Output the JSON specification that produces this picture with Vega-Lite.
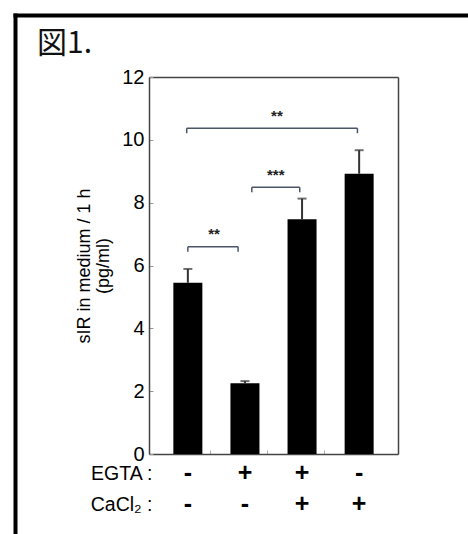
{
  "$schema": "https://vega.github.io/schema/vega-lite/v6.json",
  "width": 453,
  "height": 519,
  "autosize": {"type": "none"},
  "padding": {"left": 15, "top": 15, "right": 0, "bottom": 0},
  "background": "white",
  "title": {"text": "図1.", "orient": "top", "anchor": "start", "frame": "group", "font": "Noto Sans CJK JP", "fontSize": 30, "fontWeight": "normal", "color": "#111", "baseline": "alphabetic", "offset": -68, "dx": 22},
  "config": {"view": {"stroke": null}, "font": "Liberation Sans", "axis": {"grid": false, "labelFont": "Liberation Sans", "titleFont": "Liberation Sans"}},
  "datasets": {
    "main": [
      {"g": "1", "mean": 5.45, "upper": 5.89},
      {"g": "2", "mean": 2.25, "upper": 2.32},
      {"g": "3", "mean": 7.47, "upper": 8.13},
      {"g": "4", "mean": 8.92, "upper": 9.67}
    ],
    "brackets": [
      {"a": 0.98, "b": 3.97, "y": 10.37, "m": 2.56, "star": "**"},
      {"a": 2.12, "b": 2.96, "y": 8.49, "m": 2.54, "star": "***"},
      {"a": 1.0, "b": 1.88, "y": 6.6, "m": 1.46, "star": "**"}
    ],
    "table": [
      {"g": "1", "row": "EGTA :", "sign": "-"},
      {"g": "2", "row": "EGTA :", "sign": "+"},
      {"g": "3", "row": "EGTA :", "sign": "+"},
      {"g": "4", "row": "EGTA :", "sign": "-"},
      {"g": "1", "row": "CaCl₂ :", "sign": "-"},
      {"g": "2", "row": "CaCl₂ :", "sign": "-"},
      {"g": "3", "row": "CaCl₂ :", "sign": "+"},
      {"g": "4", "row": "CaCl₂ :", "sign": "+"}
    ],
    "frame": [{"f": 0}]
  },
  "resolve": {"scale": {"x": "independent", "y": "independent"}},
  "layer": [
    {
      "data": {"name": "frame"},
      "mark": {"type": "point", "opacity": 0},
      "encoding": {
        "x": {"field": "f", "type": "quantitative", "scale": {"domain": [0, 1], "nice": false}, "axis": {"orient": "top", "offset": 0, "labels": false, "ticks": false, "title": null, "domainColor": "#000", "domainWidth": 4, "domainCap": "square"}},
        "y": {"field": "f", "type": "quantitative", "scale": {"domain": [0, 1], "nice": false}, "axis": {"orient": "left", "offset": 0, "labels": false, "ticks": false, "title": null, "domainColor": "#000", "domainWidth": 4, "domainCap": "square"}}
      }
    },
    {
      "data": {"name": "main"},
      "mark": {"type": "bar", "color": "#000"},
      "encoding": {
        "x": {"field": "g", "type": "nominal", "scale": {"type": "band", "domain": ["1", "2", "3", "4"], "range": [134, 383], "paddingInner": 0.492, "paddingOuter": 0.4265}, "axis": {"orient": "bottom", "offset": -80, "labels": false, "title": null, "ticks": true, "tickSize": -4, "tickColor": "#aaa", "tickWidth": 1, "bandPosition": 1.28, "values": ["1", "2", "3"], "domainColor": "#444", "domainWidth": 1.5}},
        "y": {"field": "mean", "type": "quantitative", "scale": {"domain": [0, 12], "range": [439, 62], "nice": false, "zero": true}, "axis": {"orient": "left", "offset": -134, "values": [0, 2, 4, 6, 8, 10, 12], "tickSize": -4, "tickColor": "#999", "tickWidth": 1, "labelFontSize": 20, "labelColor": "#000", "labelPadding": 9, "domainColor": "#444", "domainWidth": 1.5, "title": ["sIR in medium / 1 h", "(pg/ml)"], "titleFontSize": 18, "titleFontWeight": "normal", "titleColor": "#000", "titlePadding": 9, "titleLineHeight": 19}}
      }
    },
    {
      "data": {"name": "main"},
      "mark": {"type": "rule", "color": "#333", "strokeWidth": 2},
      "encoding": {
        "x": {"field": "g", "type": "nominal", "scale": {"type": "band", "domain": ["1", "2", "3", "4"], "range": [134, 383], "paddingInner": 0.492, "paddingOuter": 0.4265}, "axis": {"orient": "top", "offset": -62, "labels": false, "ticks": false, "title": null, "domainColor": "#444", "domainWidth": 1.5}},
        "y": {"field": "mean", "type": "quantitative", "scale": {"domain": [0, 12], "range": [439, 62], "nice": false, "zero": true}, "axis": {"orient": "right", "offset": -70, "labels": false, "ticks": false, "title": null, "domainColor": "#444", "domainWidth": 1.5}},
        "y2": {"field": "upper"}
      }
    },
    {
      "data": {"name": "main"},
      "mark": {"type": "tick", "color": "#333", "size": 9, "thickness": 2},
      "encoding": {
        "x": {"field": "g", "type": "nominal", "scale": {"type": "band", "domain": ["1", "2", "3", "4"], "range": [134, 383], "paddingInner": 0.492, "paddingOuter": 0.4265}, "axis": null},
        "y": {"field": "upper", "type": "quantitative", "scale": {"domain": [0, 12], "range": [439, 62], "nice": false, "zero": true}, "axis": null}
      }
    },
    {
      "data": {"name": "brackets"},
      "mark": {"type": "rule", "color": "#4a5568", "strokeWidth": 1.5},
      "encoding": {
        "x": {"field": "a", "type": "quantitative", "scale": {"domain": [0.3196, 4.6806], "range": [134, 383], "nice": false, "zero": false}, "axis": null},
        "x2": {"field": "b"},
        "y": {"field": "y", "type": "quantitative", "scale": {"domain": [0, 12], "range": [439, 62], "nice": false, "zero": true}, "axis": null}
      }
    },
    {
      "data": {"name": "brackets"},
      "mark": {"type": "rule", "color": "#4a5568", "strokeWidth": 1.5, "y2Offset": 5},
      "encoding": {
        "x": {"field": "a", "type": "quantitative", "scale": {"domain": [0.3196, 4.6806], "range": [134, 383], "nice": false, "zero": false}, "axis": null},
        "y": {"field": "y", "type": "quantitative", "scale": {"domain": [0, 12], "range": [439, 62], "nice": false, "zero": true}, "axis": null},
        "y2": {"field": "y"}
      }
    },
    {
      "data": {"name": "brackets"},
      "mark": {"type": "rule", "color": "#4a5568", "strokeWidth": 1.5, "y2Offset": 5},
      "encoding": {
        "x": {"field": "b", "type": "quantitative", "scale": {"domain": [0.3196, 4.6806], "range": [134, 383], "nice": false, "zero": false}, "axis": null},
        "y": {"field": "y", "type": "quantitative", "scale": {"domain": [0, 12], "range": [439, 62], "nice": false, "zero": true}, "axis": null},
        "y2": {"field": "y"}
      }
    },
    {
      "data": {"name": "brackets"},
      "mark": {"type": "text", "color": "#222", "fontSize": 15, "fontWeight": "bold", "baseline": "middle", "dy": -12.5, "font": "Liberation Sans"},
      "encoding": {
        "x": {"field": "m", "type": "quantitative", "scale": {"domain": [0.3196, 4.6806], "range": [134, 383], "nice": false, "zero": false}, "axis": null},
        "y": {"field": "y", "type": "quantitative", "scale": {"domain": [0, 12], "range": [439, 62], "nice": false, "zero": true}, "axis": null},
        "text": {"field": "star"}
      }
    },
    {
      "data": {"name": "table"},
      "mark": {"type": "text", "color": "#000", "fontSize": 25, "fontWeight": "bold", "baseline": "middle", "font": "Liberation Sans"},
      "encoding": {
        "x": {"field": "g", "type": "nominal", "scale": {"type": "band", "domain": ["1", "2", "3", "4"], "range": [134, 383], "paddingInner": 0.492, "paddingOuter": 0.4265}, "axis": null},
        "y": {"field": "row", "type": "nominal", "scale": {"type": "point", "domain": ["EGTA :", "CaCl₂ :"], "range": [458, 489], "padding": 0}, "axis": {"orient": "left", "offset": -134, "domain": false, "ticks": false, "title": null, "labelFontSize": 19.5, "labelColor": "#000", "labelPadding": -3, "labelBaseline": "middle"}},
        "text": {"field": "sign"}
      }
    }
  ]
}
